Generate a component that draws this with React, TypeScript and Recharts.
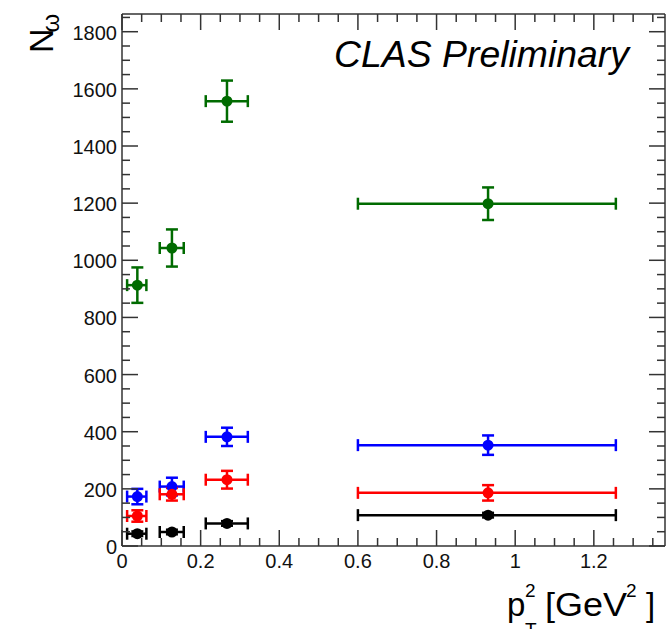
import React from 'react';
import { ScatterChart, Scatter, XAxis, YAxis, ErrorBar } from 'recharts';

// pT^2 bins (bin centre and distance to the bin edges)
const binCenters = [0.039, 0.127, 0.267, 0.931];
const binLow = [0.026, 0.031, 0.054, 0.331];
const binHigh = [0.023, 0.030, 0.053, 0.325];

// N_omega per bin, one array per colour
const greenValues = [913, 1043, 1557, 1198];
const greenErrors = [62, 65, 72, 57];
const blueValues = [173, 208, 382, 353];
const blueErrors = [27, 31, 32, 34];
const redValues = [105, 181, 232, 186];
const redErrors = [20, 22, 31, 27];
const blackValues = [43, 49, 79, 108];
const blackErrors = [8, 8, 8, 8];

const xTicks = [0, 0.05, 0.1, 0.15, 0.2, 0.25, 0.3, 0.35, 0.4, 0.45, 0.5, 0.55, 0.6, 0.65, 0.7, 0.75, 0.8, 0.85, 0.9, 0.95, 1, 1.05, 1.1, 1.15, 1.2, 1.25, 1.3, 1.35];
const xMajor = [0, 0.2, 0.4, 0.6, 0.8, 1, 1.2];
const yTicks = [0, 50, 100, 150, 200, 250, 300, 350, 400, 450, 500, 550, 600, 650, 700, 750, 800, 850, 900, 950, 1000, 1050, 1100, 1150, 1200, 1250, 1300, 1350, 1400, 1450, 1500, 1550, 1600, 1650, 1700, 1750, 1800, 1850];
const yMajor = [0, 200, 400, 600, 800, 1000, 1200, 1400, 1600, 1800];

const FONT = '"Liberation Sans", Arial, Helvetica, sans-serif';
const FRAME = '#333';

const makeSeries = (values: number[], errors: number[]) =>
    values.map((v, i) => ({
        x: binCenters[i],
        y: v,
        ex: [binLow[i], binHigh[i]],
        ey: errors[i],
    }));

const series = [
    { name: 'green', color: '#006b00', data: makeSeries(greenValues, greenErrors) },
    { name: 'blue', color: '#0000ff', data: makeSeries(blueValues, blueErrors) },
    { name: 'red', color: '#ff0000', data: makeSeries(redValues, redErrors) },
    { name: 'black', color: '#000000', data: makeSeries(blackValues, blackErrors) },
];

const BottomTick = (props: any) => {
    const { x, y, payload } = props;
    const major = xMajor.includes(payload.value);
    return (
        <g>
            <line x1={x} x2={x} y1={y} y2={y - (major ? 16 : 8)} stroke={FRAME} strokeWidth={1.5} />
            {major && (
                <text x={x} y={y + 22} textAnchor="middle" fontSize={20} fontFamily={FONT} fill="#111">
                    {String(payload.value)}
                </text>
            )}
        </g>
    );
};

const TopTick = (props: any) => {
    const { x, y, payload } = props;
    const major = xMajor.includes(payload.value);
    return <line x1={x} x2={x} y1={y} y2={y + (major ? 16 : 8)} stroke={FRAME} strokeWidth={1.5} />;
};

const LeftTick = (props: any) => {
    const { x, y, payload } = props;
    const major = yMajor.includes(payload.value);
    return (
        <g>
            <line x1={x} x2={x + (major ? 16 : 8)} y1={y} y2={y} stroke={FRAME} strokeWidth={1.5} />
            {major && (
                <text x={x - 5} y={y + 8} textAnchor="end" fontSize={20} fontFamily={FONT} fill="#111">
                    {String(payload.value)}
                </text>
            )}
        </g>
    );
};

const RightTick = (props: any) => {
    const { x, y, payload } = props;
    const major = yMajor.includes(payload.value);
    return <line x1={x} x2={x - (major ? 16 : 8)} y1={y} y2={y} stroke={FRAME} strokeWidth={1.5} />;
};

export default function App() {
    return (
        <div style={{ position: 'absolute', left: 0, top: 0, width: 669, height: 629, background: '#fff' }}>
            <ScatterChart width={669} height={629} margin={{ top: 13, right: 3, bottom: 0, left: 0 }}>
                <XAxis
                    xAxisId={0}
                    type="number"
                    dataKey="x"
                    domain={[0, 1.381]}
                    allowDataOverflow
                    ticks={xTicks}
                    interval={0}
                    height={83}
                    tickSize={0}
                    tickMargin={0}
                    tickLine={false}
                    tick={<BottomTick />}
                    axisLine={{ stroke: FRAME, strokeWidth: 1.5 }}
                />
                <XAxis
                    xAxisId="top"
                    orientation="top"
                    type="number"
                    dataKey="x"
                    domain={[0, 1.381]}
                    allowDataOverflow
                    ticks={xTicks}
                    interval={0}
                    height={1}
                    tickSize={0}
                    tickMargin={0}
                    tickLine={false}
                    tick={<TopTick />}
                    axisLine={{ stroke: FRAME, strokeWidth: 1.5 }}
                />
                <YAxis
                    yAxisId={0}
                    type="number"
                    dataKey="y"
                    domain={[0, 1862]}
                    allowDataOverflow
                    ticks={yTicks}
                    interval={0}
                    width={122}
                    tickSize={0}
                    tickMargin={0}
                    tickLine={false}
                    tick={<LeftTick />}
                    axisLine={{ stroke: FRAME, strokeWidth: 1.5 }}
                />
                <YAxis
                    yAxisId="right"
                    orientation="right"
                    type="number"
                    dataKey="y"
                    domain={[0, 1862]}
                    allowDataOverflow
                    ticks={yTicks}
                    interval={0}
                    width={1}
                    tickSize={0}
                    tickMargin={0}
                    tickLine={false}
                    tick={<RightTick />}
                    axisLine={{ stroke: FRAME, strokeWidth: 1.5 }}
                />
                {series.map((s) => (
                    <Scatter
                        key={s.name}
                        name={s.name}
                        data={s.data}
                        xAxisId={0}
                        yAxisId={0}
                        isAnimationActive={false}
                        shape={(p: any) => <circle cx={p.cx} cy={p.cy} r={5.5} fill={s.color} />}
                    >
                        <ErrorBar dataKey="ex" direction="x" width={6} stroke={s.color} strokeWidth={2.5} />
                        <ErrorBar dataKey="ey" direction="y" width={6} stroke={s.color} strokeWidth={2.5} />
                    </Scatter>
                ))}
            </ScatterChart>
            <svg
                width={669}
                height={629}
                style={{ position: 'absolute', left: 0, top: 0, pointerEvents: 'none' }}
                fontFamily={FONT}
            >
                <text x={334} y={67} fontSize={36} fontStyle="italic" fill="#000" textLength={295} lengthAdjust="spacingAndGlyphs">
                    CLAS Preliminary
                </text>
                <g transform="rotate(-90 53 53)">
                    <text x={53} y={53} fontSize={34} fill="#000">
                        N
                        <tspan dx={-4} dy={6} fontSize={24}>ω</tspan>
                    </text>
                </g>
                <text x={507} y={616} fontSize={33} fill="#000">p</text>
                <text x={525} y={597} fontSize={19} fill="#000">2</text>
                <text x={525} y={636} fontSize={19} fill="#000">T</text>
                <text x={545} y={616} fontSize={33} fill="#000" textLength={82} lengthAdjust="spacingAndGlyphs">[GeV</text>
                <text x={626} y={597} fontSize={19} fill="#000">2</text>
                <text x={646} y={616} fontSize={33} fill="#000">]</text>
            </svg>
        </div>
    );
}
